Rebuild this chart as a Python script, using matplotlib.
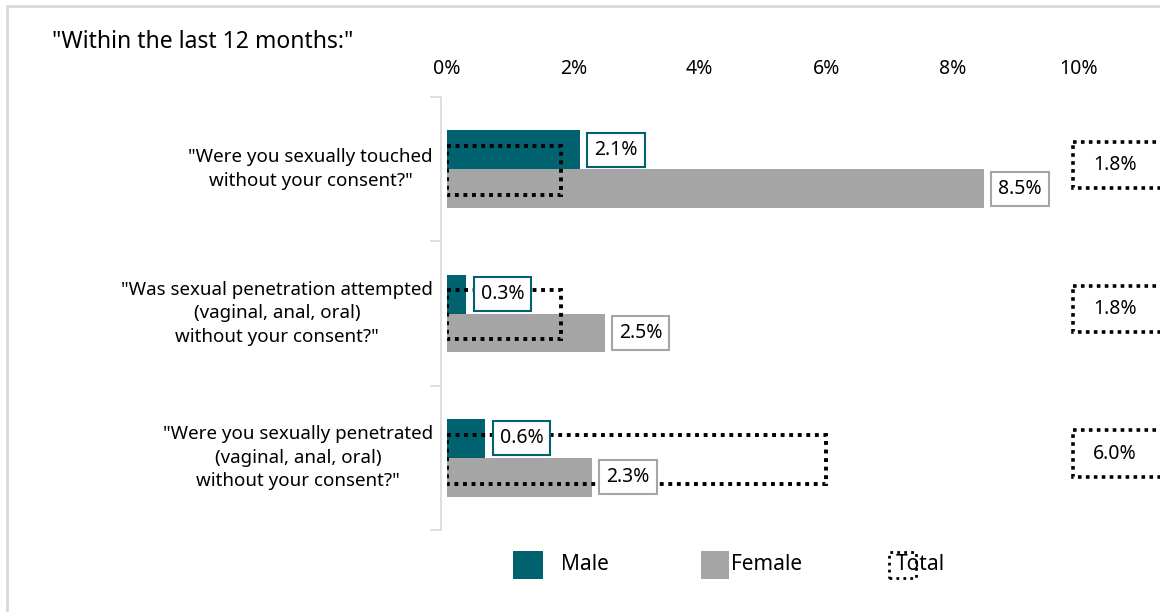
import matplotlib.pyplot as plt
from matplotlib.patches import Rectangle
import numpy as np

plt.rcParams['font.family'] = ['Noto Sans', 'DejaVu Sans']

categories = [
    '"Were you sexually touched\nwithout your consent?"',
    '"Was sexual penetration attempted\n(vaginal, anal, oral)\nwithout your consent?"',
    '"Were you sexually penetrated\n(vaginal, anal, oral)\nwithout your consent?"',
]
male = [2.1, 0.3, 0.6]
female = [8.5, 2.5, 2.3]
total = [1.8, 1.8, 6.0]
xticks = [0, 2, 4, 6, 8, 10]

TEAL = '#00626F'
GREY = '#A5A5A5'
FS = 14

fig = plt.figure(figsize=(11.6, 6.12), dpi=100)
ax = fig.add_axes([447 / 1160, 1 - 530 / 612, (1079 - 447) / 1160, (530 - 97) / 612])

y = np.arange(len(categories))
h = 0.27

ax.barh(y - h / 2, male, height=h, color=TEAL, zorder=2)
ax.barh(y + h / 2, female, height=h, color=GREY, zorder=2)
# total shown as dotted outline boxes over the bars
ax.barh(y + 0.01, total, height=0.34, fill=False, edgecolor='black',
        linestyle=(0, (1, 1.2)), linewidth=2.8, zorder=3)

for i in range(len(categories)):
    ax.annotate(f'{male[i]:.1f}%', (male[i], y[i] - h / 2), xytext=(10.5, 0),
                textcoords='offset points', va='center', ha='left', fontsize=FS,
                bbox=dict(boxstyle='square,pad=0.36', fc='white', ec=TEAL, lw=1.5),
                zorder=4)
    ax.annotate(f'{female[i]:.1f}%', (female[i], y[i] + h / 2), xytext=(10, 0),
                textcoords='offset points', va='center', ha='left', fontsize=FS,
                bbox=dict(boxstyle='square,pad=0.36', fc='white', ec=GREY, lw=1.5),
                zorder=4)
    # total value boxes to the right of the plot
    ax.add_patch(Rectangle((9.905, y[i] - 0.03 - 0.16), 2.0, 0.32, fill=False,
                           ec='black', lw=2.6, ls=(0, (1, 1.2)), clip_on=False, zorder=4))
    ax.text(10.22, y[i] - 0.03, f'{total[i]:.1f}%', va='center', ha='left',
            fontsize=FS, clip_on=False, zorder=5)

ax.set_xlim(0, 10)
ax.set_ylim(len(categories) - 0.5, -0.5)
ax.xaxis.tick_top()
ax.set_xticks(xticks)
ax.set_xticklabels([f'{t}%' for t in xticks], fontsize=FS)
ax.tick_params(axis='x', length=0, pad=13)

ax.set_yticks(y)
ax.set_yticklabels([])
ax.tick_params(axis='y', length=0)
for yi, label in zip(y, categories):
    ax.text(-14 / 63.2, yi, label, fontsize=13.5, ha='right', va='center',
            multialignment='center', linespacing=1.4)
ax.set_yticks(np.arange(len(categories) + 1) - 0.5, minor=True)
ax.tick_params(axis='y', which='minor', length=8, color='#D9D9D9', width=1.2)

for s in ['top', 'right', 'bottom']:
    ax.spines[s].set_visible(False)
ax.spines['left'].set_color('#D9D9D9')
ax.spines['left'].set_linewidth(1.2)
ax.spines['left'].set_position(('outward', 4))

fig.text(52 / 1160, 1 - 42 / 612, '"Within the last 12 months:"', fontsize=16.5, va='center')

# chart frame
fig.patches.append(Rectangle((7 / 1160, -0.1), 1.2, 1.1 - 6 / 612, transform=fig.transFigure,
                             fill=False, ec='#D9D9D9', lw=2))

# legend
ly = 1 - 565 / 612
sh = 28 / 612
fig.patches.append(Rectangle((513 / 1160, ly - sh / 2), 30 / 1160, sh, transform=fig.transFigure,
                             fc=TEAL, ec='none'))
fig.text(561 / 1160, ly, 'Male', fontsize=FS + 1, va='center')
fig.patches.append(Rectangle((701 / 1160, ly - sh / 2), 28 / 1160, sh, transform=fig.transFigure,
                             fc=GREY, ec='none'))
fig.text(731 / 1160, ly, 'Female', fontsize=FS + 1, va='center')
fig.patches.append(Rectangle((889 / 1160, ly - 13 / 612), 27 / 1160, 26 / 612,
                             transform=fig.transFigure, fill=False, ec='black',
                             lw=2, ls=(0, (1, 1.5))))
fig.text(896 / 1160, ly, 'Total', fontsize=FS + 1, va='center')

fig.savefig('out.png', dpi=100)
